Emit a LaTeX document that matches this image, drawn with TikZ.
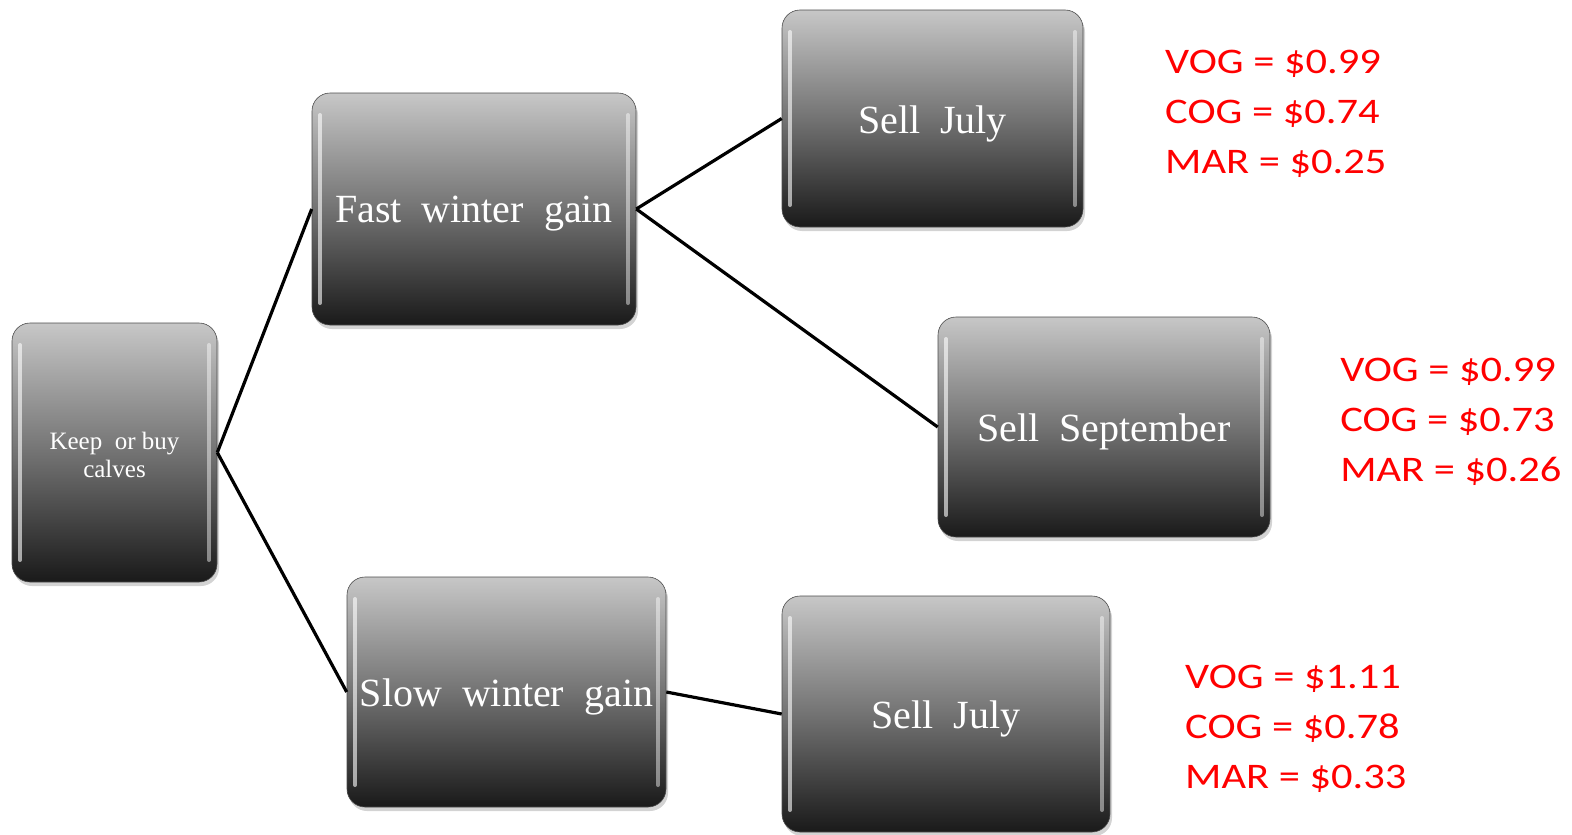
\documentclass[tikz,border=0pt]{standalone}
\usepackage{fontspec}
\setmainfont{Liberation Serif}
\newfontfamily\redfont{Carlito}
\usetikzlibrary{shadows}
\definecolor{valred}{RGB}{255,0,0}
\newcommand{\lowered}[2]{\raisebox{-#1}[\height][\depth]{#2}}
\tikzset{
  gbox/.style={draw=black!70, line width=0.6pt, rounded corners=18pt,
    top color=black!22, bottom color=black!90, middle color=black!55,
    drop shadow={shadow xshift=2pt, shadow yshift=-4pt, opacity=0.35},
    text=white, align=center, inner sep=0pt,
    path picture={
      \draw[white, opacity=0.6, line width=4pt, line cap=round]
        ([xshift=8pt,yshift=-22pt]path picture bounding box.north west) --
        ([xshift=8pt,yshift=22pt]path picture bounding box.south west);
      \draw[white, opacity=0.45, line width=4pt, line cap=round]
        ([xshift=-8pt,yshift=-22pt]path picture bounding box.north east) --
        ([xshift=-8pt,yshift=22pt]path picture bounding box.south east);
    }},
  big/.style={font=\fontsize{40}{44}\selectfont},
  conn/.style={draw=black, line width=3.2pt},
  vals/.style={text=valred, font=\redfont\fontsize{36}{50}\selectfont, align=left, anchor=west, inner sep=0pt, transform shape, xscale=1.18}
}
\begin{document}
\begin{tikzpicture}[x=1pt,y=-1pt]
\useasboundingbox (0,0) rectangle (1572,835);
\node[gbox, minimum width=205pt, minimum height=259pt, font=\fontsize{25}{28}\selectfont] (keep) at (114.5,452.5) {\lowered{2pt}{Keep\ \ or buy}\\\lowered{2pt}{calves}};
\node[gbox, big, minimum width=324pt, minimum height=232pt] (fast) at (474,209) {\lowered{5pt}{Fast\ \ winter\ \ gain}};
\node[gbox, big, minimum width=319pt, minimum height=230pt] (slow) at (506.5,692) {\lowered{5pt}{Slow\ \ winter\ \ gain}};
\node[gbox, big, minimum width=301pt, minimum height=217pt] (july1) at (932.5,118.5) {\lowered{5pt}{Sell\ \ July}};
\node[gbox, big, minimum width=332pt, minimum height=220pt] (sept) at (1104,427) {\lowered{5pt}{Sell\ \ September}};
\node[gbox, big, minimum width=328pt, minimum height=236pt] (july2) at (946,714) {\lowered{5pt}{Sell\ \ July}};
\draw[conn] (keep.east) -- (fast.west);
\draw[conn] (keep.east) -- (slow.west);
\draw[conn] (fast.east) -- (july1.west);
\draw[conn] (fast.east) -- (sept.west);
\draw[conn] (slow.east) -- (july2.west);
\node[vals] (v1) at (1165,114) {VOG = \$0.99\\COG = \$0.74\\MAR = \$0.25};
\node[vals] (v2) at (1340,422) {VOG = \$0.99\\COG = \$0.73\\MAR = \$0.26};
\node[vals] (v3) at (1185,729) {VOG = \$1.11\\COG = \$0.78\\MAR = \$0.33};
\end{tikzpicture}
\end{document}
